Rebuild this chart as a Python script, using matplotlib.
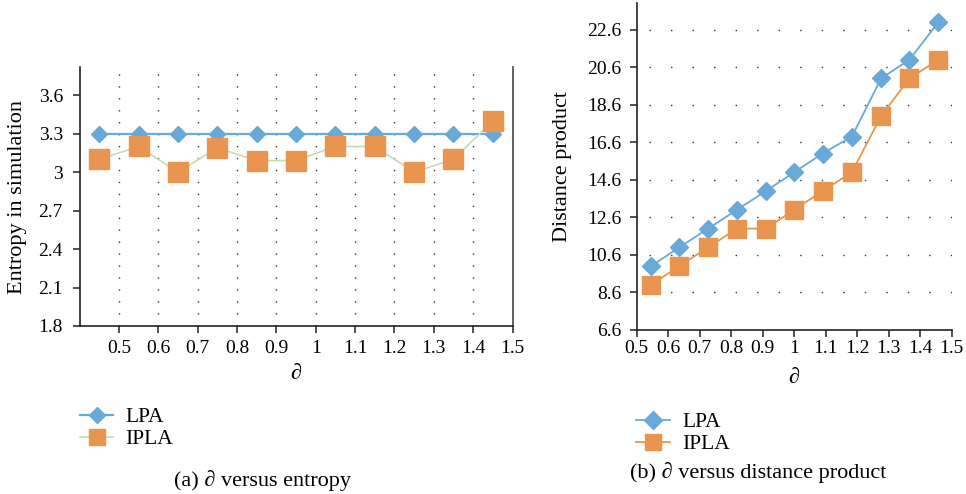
import matplotlib
matplotlib.use("Agg")
import matplotlib.pyplot as plt
from matplotlib.lines import Line2D

plt.rcParams['font.family'] = ['Liberation Serif', 'DejaVu Serif']
plt.rcParams['font.size'] = 14

# ---- data: (a) entropy ----
a_x = [0.45, 0.55, 0.65, 0.75, 0.85, 0.95, 1.05, 1.15, 1.25, 1.35, 1.45]
a_lpa = [3.3, 3.3, 3.3, 3.3, 3.3, 3.3, 3.3, 3.3, 3.3, 3.3, 3.3]
a_ipla = [3.1, 3.2, 3.0, 3.19, 3.09, 3.09, 3.2, 3.2, 3.0, 3.1, 3.4]
a_xticks = [0.5, 0.6, 0.7, 0.8, 0.9, 1.0, 1.1, 1.2, 1.3, 1.4, 1.5]
a_xticklabels = ['0.5', '0.6', '0.7', '0.8', '0.9', '1', '1.1', '1.2', '1.3', '1.4', '1.5']
a_yticks = [1.8, 2.1, 2.4, 2.7, 3.0, 3.3, 3.6]
a_yticklabels = ['1.8', '2.1', '2.4', '2.7', '3', '3.3', '3.6']

# ---- data: (b) distance product ----
b_x = [0.545, 0.635, 0.727, 0.818, 0.91, 1.0, 1.09, 1.183, 1.276, 1.366, 1.458]
b_lpa = [10, 11, 12, 13, 14, 15, 16, 16.9, 20, 21, 23]
b_ipla = [9, 10, 11, 12, 12, 13, 14, 15, 18, 20, 21]
b_xticks = a_xticks
b_xticklabels = a_xticklabels
b_yticks = [6.6, 8.6, 10.6, 12.6, 14.6, 16.6, 18.6, 20.6, 22.6]
b_yticklabels = ['6.6', '8.6', '10.6', '12.6', '14.6', '16.6', '18.6', '20.6', '22.6']

series = ['LPA', 'IPLA']
ylabels = ['Entropy in simulation', 'Distance product']
xlabel = '\u2202'
captions = ['(a) \u2202 versus entropy', '(b) \u2202 versus distance product']

BLUE = '#67aad9'
ORANGE = '#e9954f'
GREEN = '#c3dfb0'
AXC = '#222222'

W, H = 966, 494
fig = plt.figure(figsize=(W / 100, H / 100), dpi=100)

def px(x0, y0, x1, y1):
    return [x0 / W, 1 - y1 / H, (x1 - x0) / W, (y1 - y0) / H]

def ftext(x, y, s, **kw):
    fig.text(x / W, 1 - y / H, s, ha='center', va='center', **kw)

TICK_FS = 14

# ---------- (a) ----------
ax1 = fig.add_axes(px(79.5, 67, 512.5, 326))
ax1.plot(a_x, a_lpa, color=BLUE, lw=1.6, marker='D', ms=8.2, mec=BLUE, mfc=BLUE, zorder=3)
ax1.plot(a_x, a_ipla, color=GREEN, lw=1.2, marker='s', ms=14, mec=ORANGE, mfc=ORANGE, zorder=4)
ax1.set_xlim(0.4, 1.5)
ax1.set_ylim(1.8, 3.82)
ax1.set_xticks(a_xticks)
ax1.set_xticklabels(a_xticklabels)
ax1.set_yticks(a_yticks)
ax1.set_yticklabels(a_yticklabels)
for xv in a_xticks[:-1]:
    ax1.axvline(xv, color='#333333', lw=1.0, ls=(0, (1, 7.6)), zorder=1)
ax1.spines['top'].set_visible(False)
ax1.spines['right'].set_color('#555555')
ax1.spines['right'].set_linewidth(1.3)
for s in ['left', 'bottom']:
    ax1.spines[s].set_color(AXC)
    ax1.spines[s].set_linewidth(1.2)
ax1.tick_params(direction='out', length=5, width=1.1, color=AXC, labelsize=TICK_FS, pad=7)
ax1.tick_params(axis='x', pad=5)

# ---------- (b) ----------
ax2 = fig.add_axes(px(636.7, 3.3, 951.7, 330))
ax2.plot(b_x, b_lpa, color=BLUE, lw=1.3, marker='D', ms=9.0, mec=BLUE, mfc=BLUE, zorder=3)
ax2.plot(b_x, b_ipla, color=ORANGE, lw=1.3, marker='s', ms=12.8, mec=ORANGE, mfc=ORANGE, zorder=4)
ax2.set_xlim(0.5, 1.5)
ax2.set_ylim(6.6, 24.0)
ax2.set_xticks(b_xticks)
ax2.set_xticklabels(b_xticklabels)
ax2.set_yticks(b_yticks)
ax2.set_yticklabels(b_yticklabels)
for yv in b_yticks[1:]:
    ax2.axhline(yv, xmin=0.04, color='#333333', lw=1.0, ls=(0, (1, 14.5)), zorder=1)
ax2.spines['top'].set_visible(False)
ax2.spines['right'].set_visible(False)
for s in ['left', 'bottom']:
    ax2.spines[s].set_color(AXC)
    ax2.spines[s].set_linewidth(1.2)
ax2.tick_params(direction='out', length=5, width=1.1, color=AXC, labelsize=TICK_FS, pad=6)
ax2.tick_params(axis='x', pad=2)

# ---------- axis labels ----------
ftext(18, 196.5, ylabels[0], rotation=90, fontsize=16)
ftext(563, 166.5, ylabels[1], rotation=90, fontsize=16)
ftext(296, 374, xlabel, fontsize=16)
ftext(794, 378, xlabel, fontsize=16)

# ---------- legends ----------
h1 = [Line2D([], [], color=BLUE, lw=1.6, marker='D', ms=8.2, mfc=BLUE, mec=BLUE),
      Line2D([], [], color=GREEN, lw=1.2, marker='s', ms=11, mfc=ORANGE, mec=ORANGE)]
fig.legend(h1, series, loc='upper left', bbox_to_anchor=(80 / W, 1 - 407 / H),
           frameon=False, fontsize=15.5, handlelength=1.55, handletextpad=0.55,
           labelspacing=0.1, borderpad=0, borderaxespad=0)
h2 = [Line2D([], [], color=BLUE, lw=1.3, marker='D', ms=9.0, mfc=BLUE, mec=BLUE),
      Line2D([], [], color=ORANGE, lw=1.3, marker='s', ms=11, mfc=ORANGE, mec=ORANGE)]
fig.legend(h2, series, loc='upper left', bbox_to_anchor=(636 / W, 1 - 412 / H),
           frameon=False, fontsize=15.5, handlelength=1.6, handletextpad=0.55,
           labelspacing=0.1, borderpad=0, borderaxespad=0)

# ---------- captions ----------
ftext(262, 480, captions[0], fontsize=16)
ftext(758, 472, captions[1], fontsize=16)

fig.savefig('out.png', dpi=100)
